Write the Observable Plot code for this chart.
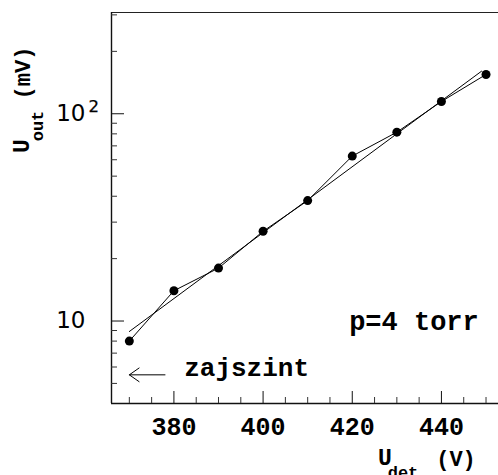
<!DOCTYPE html>
<html><head><meta charset="utf-8">
<script src="https://cdn.jsdelivr.net/npm/d3@7"></script>
<script src="https://cdn.jsdelivr.net/npm/@observablehq/plot@0.6"></script>
<style>body{margin:0;background:#fff} #chart svg{display:block}</style>
</head><body><div id="chart"></div>
<script>
// Measured data
const voltage = [370, 380, 390, 400, 410, 420, 430, 440, 450];
const signal = [8.0, 14.0, 18.0, 27.1, 38.1, 62.5, 81.5, 114.6, 154.7];
// Fitted exponential line (end points)
const fitVoltage = [370, 449];
const fitSignal = [8.9, 160.5];
// Noise level arrow
const noiseArrow = [{from: 378, to: 370, level: 5.5}];
// Annotations
const labelText = ["zajszint", "p=4 torr"];
const labelX = [382.3, 419.3];
const labelY = [5.93, 10];
const labelSize = [26, 27];
// Ticks
const xMajorTicks = [380, 400, 420, 440];
const xMinorTicks = [370, 375, 385, 390, 395, 405, 410, 415, 425, 430, 435, 445, 450];
const yMajorTicks = [10, 100];
const yMinorTicks = [5, 6, 7, 8, 9, 20, 30, 40, 50, 60, 70, 80, 90, 200, 300];
const xDomain = [366, 452.8];
const yDomain = [4, 308];

const points = voltage.map((v, i) => ({v, s: signal[i]}));
const fit = fitVoltage.map((v, i) => ({v, s: fitSignal[i]}));
const labels = labelText.map((t, i) => ({t, x: labelX[i], y: labelY[i], size: labelSize[i]}));

const mono = "Liberation Mono, DejaVu Sans Mono, monospace";
const sans = "DejaVu Sans, Liberation Sans, sans-serif";

const svg = Plot.plot({
  width: 498, height: 475,
  marginLeft: 111, marginRight: 0, marginTop: 12, marginBottom: 72,
  style: {background: "white", color: "black", overflow: "visible"},
  x: {domain: xDomain, label: null, axis: null},
  y: {type: "log", domain: yDomain, label: null, axis: null},
  marks: [
    Plot.ruleY([yDomain[0]], {stroke: "#111", strokeWidth: 1.4}),
    Plot.ruleY([yDomain[1]], {stroke: "#222", strokeWidth: 1.2}),
    Plot.ruleX([xDomain[0]], {stroke: "#111", strokeWidth: 1.4}),
    Plot.axisX(xMajorTicks, {tickSize: -12, tickFormat: () => "", label: null, stroke: "#111"}),
    Plot.axisX(xMinorTicks, {tickSize: -6, tickFormat: () => "", label: null, stroke: "#333"}),
    Plot.axisX(xMajorTicks, {tickSize: 0, tickPadding: 14, tickFormat: d => String(d), label: null,
      fontFamily: mono, fontWeight: "bold", fontSize: 25, fill: "black"}),
    Plot.axisY(yMajorTicks, {tickSize: -13, tickFormat: () => "", label: null, stroke: "#111"}),
    Plot.axisY(yMinorTicks, {tickSize: -6, tickFormat: () => "", label: null, stroke: "#333"}),
    Plot.axisY(yMajorTicks, {tickSize: 0, tickPadding: 26, tickFormat: () => "10", label: null,
      fontFamily: sans, fontSize: 23, fill: "black", stroke: "black", strokeWidth: 0.3}),
    Plot.text([yMajorTicks[1]], {y: d => d, frameAnchor: "left", text: () => "2", textAnchor: "start",
      dx: -23, dy: -6.6, fontFamily: sans, fontSize: 16.5, fill: "black", stroke: "black", strokeWidth: 0.25}),
    Plot.line(fit, {x: "v", y: "s", stroke: "black", strokeWidth: 1}),
    Plot.line(points, {x: "v", y: "s", stroke: "black", strokeWidth: 1}),
    Plot.dot(points, {x: "v", y: "s", r: 4.5, fill: "black"}),
    Plot.arrow(noiseArrow, {x1: "from", x2: "to", y1: "level", y2: "level", stroke: "black",
      strokeWidth: 1, headLength: 19.5, headAngle: 70}),
    Plot.text(labels, {x: "x", y: "y", text: "t", textAnchor: "start", fontFamily: mono,
      fontWeight: "bold", fontSize: "size", fill: "black"})
  ]
});

const s = d3.select(svg);
// x-axis title
const xt = s.append("text").attr("font-family", mono).attr("font-weight", "bold").attr("fill", "black");
xt.append("tspan").attr("x", 385).attr("y", 465).attr("font-size", 23).text("U");
xt.append("tspan").attr("x", 403).attr("y", 478).attr("font-size", 17).text("det");
xt.append("tspan").attr("x", 456).attr("y", 466).attr("font-size", 22).text("(V)");
// y-axis title
const yt = s.append("text").attr("font-family", mono).attr("font-weight", "bold").attr("fill", "black")
  .attr("transform", "translate(29,146) rotate(-90)");
yt.append("tspan").attr("x", 0).attr("y", 0).attr("font-size", 23).text("U");
yt.append("tspan").attr("x", 20).attr("y", 14).attr("font-size", 17).text("out");
yt.append("tspan").attr("x", 73).attr("y", 1).attr("font-size", 22).text("(mV)");

document.getElementById("chart").appendChild(svg);
</script>
</body></html>
